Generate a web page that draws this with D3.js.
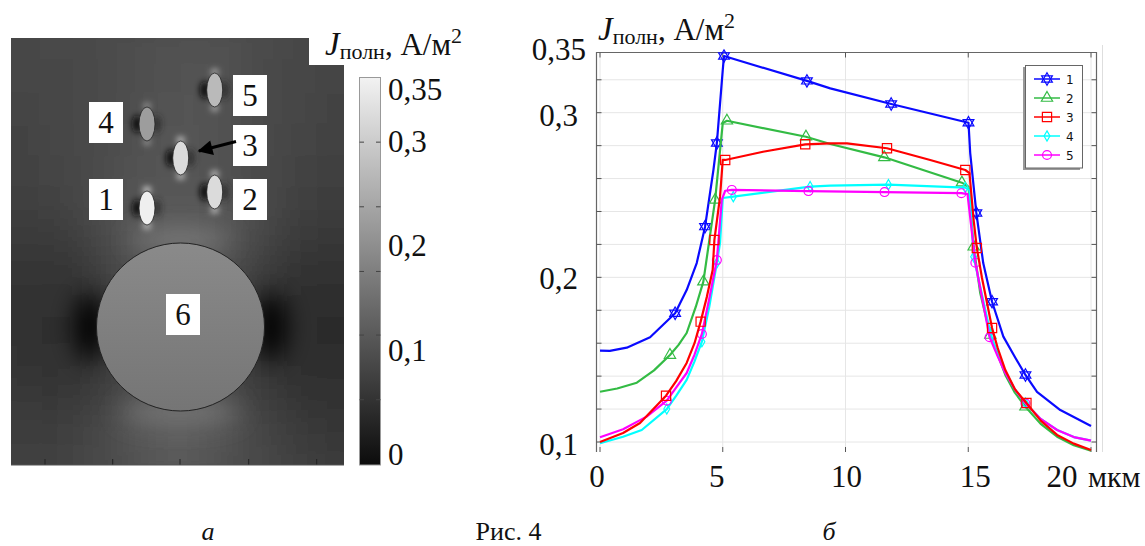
<html>
<head>
    <meta charset="utf-8">
    <script src="https://cdn.jsdelivr.net/npm/d3@7"></script>
    <style>
        html, body { margin: 0; padding: 0; background: #fff; }
        svg { display: block; }
        text { font-family: "Liberation Serif", serif; fill: #111; }
    </style>
</head>
<body>
<div id="chart"></div>
<script>
    // line chart (b)
    var xTicks = [0, 5, 10, 15, 20];
    var xTickLabels = ["0", "5", "10", "15", "20"];
    var yMinor = [0.12, 0.14, 0.16, 0.18, 0.2, 0.22, 0.24, 0.26, 0.28, 0.3, 0.32];
    var yLabelValues = [0.1, 0.2, 0.3, 0.337];
    var yLabels = ["0,1", "0,2", "0,3", "0,35"];
    var seriesNames = ["1", "2", "3", "4", "5"];
    var seriesColors = ["#0a0aff", "#33bb44", "#ff0000", "#00ffff", "#ff00ff"];

    var x1 = [0, .4, 1.09, 2.04, 3.06, 3.53, 3.94, 4.28, 4.62, 4.76, 5.0, 5.05, 8.43, 9.38, 11.86, 15.01, 15.08, 15.33, 15.61, 15.97, 16.43, 16.9, 17.33, 17.8, 18.75, 20];
    var y1 = [.1555, .1553, .1573, .1636, .1782, .1923, .2087, .2308, .2652, .2816, .3259, .3344, .3193, .3148, .3053, .2939, .2755, .2391, .2087, .1852, .164, .1516, .1407, .1305, .1194, .1097];
    var m1 = [3.06, 4.28, 4.76, 5.05, 8.43, 11.86, 15.01, 15.33, 15.97, 17.33];

    var x2 = [0, .7, 1.5, 2.2, 2.85, 3.2, 3.53, 3.9, 4.21, 4.69, 5.0, 5.17, 8.39, 9.38, 11.58, 14.74, 15.01, 15.22, 15.49, 15.9, 16.2, 16.51, 16.9, 17.33, 17.95, 18.62, 19.3, 20];
    var y2 = [.1305, .1325, .136, .1435, .1528, .159, .1662, .182, .1974, .247, .2937, .2951, .2854, .281, .2729, .2575, .2551, .2186, .1903, .165, .153, .1407, .13, .1214, .111, .1032, .098, .0947];
    var m2 = [2.85, 4.21, 4.69, 5.17, 8.39, 11.58, 14.74, 15.22, 15.9, 17.33];

    var x3 = [0, .94, 1.63, 2.69, 3.1, 3.53, 3.85, 4.1, 4.35, 4.59, 4.66, 4.89, 5.0, 5.1, 6.64, 8.36, 9.38, 10.06, 11.69, 13.45, 14.88, 15.05, 15.22, 15.35, 15.56, 15.97, 16.2, 16.51, 16.9, 17.37, 17.95, 18.62, 19.3, 20];
    var y3 = [.1, .1055, .1115, .1281, .137, .148, .16, .1731, .188, .2045, .2227, .249, .2713, .2713, .2763, .2808, .2814, .2814, .2784, .2713, .2652, .2633, .2348, .2178, .1996, .1692, .157, .1437, .132, .1237, .113, .1043, .099, .0951];
    var m3 = [2.69, 4.1, 4.66, 5.1, 8.36, 11.69, 14.88, 15.35, 15.97, 17.37];

    var x4 = [0, .94, 1.7, 2.72, 3.1, 3.53, 3.85, 4.15, 4.45, 4.76, 4.89, 5.0, 5.43, 8.56, 9.38, 11.75, 14.88, 15.05, 15.22, 15.9, 16.2, 16.51, 16.9, 17.33, 17.95, 18.62, 19.3, 20];
    var y4 = [.0992, .1032, .1073, .12, .128, .1377, .149, .1609, .182, .2087, .2209, .2482, .249, .2551, .2557, .2563, .2545, .253, .2125, .1662, .153, .1427, .132, .1237, .114, .1073, .103, .1008];
    var m4 = [2.72, 4.15, 4.76, 5.43, 8.56, 11.75, 14.88, 15.22, 15.9, 17.33];

    var x5 = [0, .94, 1.9, 2.72, 3.1, 3.53, 3.85, 4.15, 4.45, 4.76, 4.96, 5.1, 5.37, 8.49, 11.59, 14.72, 14.97, 15.29, 15.87, 16.2, 16.51, 16.9, 17.33, 17.95, 18.62, 19.3, 20];
    var y5 = [.1029, .1077, .1154, .1251, .133, .1419, .153, .1656, .187, .2105, .247, .2526, .2531, .2524, .2518, .2511, .2506, .2089, .1636, .152, .1419, .132, .1235, .114, .1073, .103, .1008];
    var m5 = [2.72, 4.15, 4.76, 5.37, 8.49, 11.59, 14.72, 15.29, 15.87, 17.33];

    // field map (a) - inclusions and coarse samples of the grey field, A/m2
    var inclusionNames = ["1", "2", "3", "4", "5"];
    var inclusionX = [147, 214.7, 180.7, 147, 214.7];
    var inclusionY = [208, 192, 158, 124, 90];
    var inclusionJ = [.345, .315, .315, .22, .265];
    var barTickValues = [.3, .238, .176, .115, .053];
    var barLabelValues = [0, .1, .2, .3, .35];
    var barLabels = ["0", "0,1", "0,2", "0,3", "0,35"];
    var fieldRows = [
        [.090, .090, .090, .092, .095, .098, .100, .098, .092, .090, .090, .088],
        [.090, .090, .092, .095, .100, .105, .105, .105, .098, .090, .088, .086],
        [.088, .088, .090, .095, .100, .105, .108, .105, .095, .088, .086, .084],
        [.086, .086, .090, .095, .100, .108, .110, .105, .095, .088, .084, .082],
        [.084, .084, .088, .095, .102, .110, .110, .105, .095, .086, .082, .080],
        [.082, .082, .086, .095, .105, .110, .110, .105, .095, .084, .080, .078],
        [.078, .078, .082, .095, .110, .115, .115, .110, .095, .080, .076, .074],
        [.072, .070, .072, .085, .110, .120, .120, .115, .090, .072, .068, .066],
        [.066, .062, .060, .070, .100, .110, .110, .100, .075, .060, .056, .056],
        [.062, .058, .055, .060, .090, .100, .100, .090, .060, .052, .050, .052],
        [.062, .058, .052, .055, .090, .100, .100, .090, .055, .050, .048, .050],
        [.066, .060, .056, .060, .090, .100, .100, .090, .060, .052, .050, .052],
        [.070, .066, .064, .072, .095, .105, .105, .095, .075, .060, .056, .056],
        [.074, .074, .074, .085, .105, .120, .120, .105, .085, .072, .064, .062],
        [.078, .078, .080, .088, .105, .120, .120, .105, .088, .078, .070, .068],
        [.080, .080, .082, .088, .095, .105, .105, .095, .088, .080, .074, .072]
    ];

    var width = 1145, height = 546;
    var svg = d3.select("#chart").append("svg")
        .attr("width", width)
        .attr("height", height);
    var defs = svg.append("defs");

    function blur(id, dev) {
        defs.append("filter").attr("id", id)
            .attr("filterUnits", "userSpaceOnUse")
            .attr("x", -100).attr("y", -100).attr("width", 600).attr("height", 700)
            .append("feGaussianBlur").attr("stdDeviation", dev);
    }
    blur("fieldBlur", 18);
    blur("glow", 3);
    blur("lobeBlur", 12);

    var grey = d3.scaleLinear().domain([0, .35]).range(["#0c0c0c", "#f2f2f2"]);

    // ---------- panel a ----------
    var panel = {left: 11, right: 344, top: 38, bottom: 465};
    defs.append("clipPath").attr("id", "panelClip").append("path")
        .attr("d", "M11,38H309V65H344V465H11Z");

    var field = svg.append("g").attr("clip-path", "url(#panelClip)");
    field.append("rect")
        .attr("x", panel.left).attr("y", panel.top)
        .attr("width", panel.right - panel.left).attr("height", panel.bottom - panel.top)
        .attr("fill", grey(.085));

    var colBand = d3.scaleBand().domain(d3.range(12)).range([panel.left - 40, panel.right + 40]);
    var rowBand = d3.scaleBand().domain(d3.range(16)).range([panel.top - 40, panel.bottom + 40]);
    var fieldCells = field.append("g").attr("filter", "url(#fieldBlur)");
    fieldCells.selectAll("g").data(fieldRows).enter().append("g")
        .each(function (row, r) {
            d3.select(this).selectAll("rect").data(row).enter().append("rect")
                .attr("x", function (d, c) { return colBand(c); })
                .attr("y", rowBand(r))
                .attr("width", colBand.bandwidth() + 1)
                .attr("height", rowBand.bandwidth() + 1)
                .attr("fill", function (d) { return grey(d); });
        });

    // dark lobes beside the inclusions, bright tips above and below
    var inc = field.selectAll(".inc").data(inclusionNames).enter().append("g").attr("class", "inc");
    inc.append("ellipse")
        .attr("cx", function (d, i) { return inclusionX[i] - 10; })
        .attr("cy", function (d, i) { return inclusionY[i]; })
        .attr("rx", 5).attr("ry", 9)
        .attr("fill", "#111").attr("filter", "url(#glow)");
    inc.append("ellipse")
        .attr("cx", function (d, i) { return inclusionX[i] + 10; })
        .attr("cy", function (d, i) { return inclusionY[i]; })
        .attr("rx", 4).attr("ry", 9)
        .attr("fill", "#222").attr("opacity", .7).attr("filter", "url(#glow)");
    [-18, 18].forEach(function (dy) {
        inc.append("ellipse")
            .attr("cx", function (d, i) { return inclusionX[i]; })
            .attr("cy", function (d, i) { return inclusionY[i] + dy; })
            .attr("rx", 4).attr("ry", 3)
            .attr("fill", function (d, i) { return grey(inclusionJ[i]); })
            .attr("filter", "url(#glow)");
    });

    // bright halo under and above the big circle, dark lobes at its sides
    field.append("ellipse").attr("cx", 180).attr("cy", 412).attr("rx", 60).attr("ry", 12)
        .attr("fill", "#777").attr("filter", "url(#lobeBlur)");
    field.append("ellipse").attr("cx", 180).attr("cy", 240).attr("rx", 50).attr("ry", 9)
        .attr("fill", "#808080").attr("filter", "url(#lobeBlur)");
    field.append("ellipse").attr("cx", 90).attr("cy", 327).attr("rx", 16).attr("ry", 34)
        .attr("fill", "#050505").attr("filter", "url(#lobeBlur)");
    field.append("ellipse").attr("cx", 271).attr("cy", 327).attr("rx", 16).attr("ry", 34)
        .attr("fill", "#050505").attr("filter", "url(#lobeBlur)");

    var circleGrad = defs.append("linearGradient").attr("id", "circleGrad")
        .attr("x1", 0).attr("y1", 0).attr("x2", 0).attr("y2", 1);
    circleGrad.append("stop").attr("offset", "0%").attr("stop-color", "#8a8a8a");
    circleGrad.append("stop").attr("offset", "100%").attr("stop-color", "#757575");
    field.append("circle").attr("cx", 180.5).attr("cy", 327).attr("r", 84)
        .attr("fill", "url(#circleGrad)").attr("stroke", "#222").attr("stroke-width", 1);

    field.selectAll(".inclusion").data(inclusionNames).enter().append("ellipse")
        .attr("class", "inclusion")
        .attr("cx", function (d, i) { return inclusionX[i]; })
        .attr("cy", function (d, i) { return inclusionY[i]; })
        .attr("rx", 8).attr("ry", 17)
        .attr("fill", function (d, i) { return grey(inclusionJ[i]); })
        .attr("stroke", "#222").attr("stroke-width", 0.8);

    // ticks along the bottom of the map
    [45, 112.7, 180, 248.7, 316.7].forEach(function (tx) {
        svg.append("line").attr("x1", tx).attr("x2", tx).attr("y1", 459).attr("y2", 465)
            .attr("stroke", "#222").attr("stroke-width", 1);
    });
    svg.append("line").attr("x1", panel.left).attr("x2", panel.right).attr("y1", 465).attr("y2", 465)
        .attr("stroke", "#555").attr("stroke-width", 1);

    // white number boxes
    var boxData = [
        {t: "1", x: 89, y: 179}, {t: "2", x: 233, y: 179}, {t: "3", x: 233, y: 125},
        {t: "4", x: 89, y: 102}, {t: "5", x: 233, y: 75}, {t: "6", x: 166, y: 294}
    ];
    var boxes = svg.selectAll(".box").data(boxData).enter().append("g").attr("class", "box");
    boxes.append("rect")
        .attr("x", function (d) { return d.x; }).attr("y", function (d) { return d.y; })
        .attr("width", 34).attr("height", 41).attr("fill", "#fff");
    boxes.append("text")
        .attr("x", function (d) { return d.x + 17; }).attr("y", function (d) { return d.y + 31; })
        .attr("text-anchor", "middle").attr("font-size", 31)
        .text(function (d) { return d.t; });

    // arrow to inclusion 3
    defs.append("marker").attr("id", "arrow")
        .attr("viewBox", "0 0 10 10").attr("refX", 9).attr("refY", 5)
        .attr("markerUnits", "userSpaceOnUse")
        .attr("markerWidth", 18).attr("markerHeight", 15).attr("orient", "auto")
        .append("path").attr("d", "M0,0L10,5L0,10Z").attr("fill", "#000");
    svg.append("line").attr("x1", 236).attr("y1", 141.5).attr("x2", 199).attr("y2", 151)
        .attr("stroke", "#000").attr("stroke-width", 3).attr("marker-end", "url(#arrow)");

    // colour bar
    var barY = d3.scaleLinear().domain([0, .35]).range([455, 90]);
    var barGrad = defs.append("linearGradient").attr("id", "barGrad")
        .attr("x1", 0).attr("y1", 1).attr("x2", 0).attr("y2", 0);
    barGrad.append("stop").attr("offset", "0%").attr("stop-color", grey(0));
    barGrad.append("stop").attr("offset", "100%").attr("stop-color", grey(.35));
    svg.append("rect").attr("x", 359.5).attr("y", 77.5).attr("width", 21).attr("height", 387.5)
        .attr("fill", "url(#barGrad)").attr("stroke", "#999").attr("stroke-width", 1);
    var barTicks = svg.append("g").selectAll("g").data(barTickValues).enter().append("g");
    barTicks.append("line").attr("x1", 359.5).attr("x2", 364)
        .attr("y1", function (d) { return barY(d); }).attr("y2", function (d) { return barY(d); })
        .attr("stroke", "#444");
    barTicks.append("line").attr("x1", 376).attr("x2", 380.5)
        .attr("y1", function (d) { return barY(d); }).attr("y2", function (d) { return barY(d); })
        .attr("stroke", "#444");
    svg.selectAll(".barLabel").data(barLabels).enter().append("text")
        .attr("class", "barLabel")
        .attr("x", 388)
        .attr("y", function (d, i) { return barY(barLabelValues[i]) + 10; })
        .attr("font-size", 31)
        .text(function (d) { return d; });

    function unitTitle(tx, ty) {
        var t = svg.append("text").attr("x", tx).attr("y", ty).attr("font-size", 31);
        t.append("tspan").attr("font-style", "italic").attr("font-size", 33).text("J");
        t.append("tspan").attr("font-size", 22).attr("dy", 4).text("полн");
        t.append("tspan").attr("dy", -4).text(", А/м");
        t.append("tspan").attr("font-size", 22).attr("dy", -12).text("2");
    }
    unitTitle(325, 55);
    unitTitle(598, 40);

    // ---------- panel b ----------
    var plot = {left: 596.5, right: 1096.5, top: 52.5, bottom: 452};
    var x = d3.scaleLinear().domain([0, 20]).range([600, 1091]);
    var y = d3.scaleLinear().domain([.1, .3]).range([442, 112.7]);

    var gridColor = "#e6e6e6";
    svg.append("g").selectAll("line").data(xTicks).enter().append("line")
        .attr("x1", function (d) { return x(d); }).attr("x2", function (d) { return x(d); })
        .attr("y1", plot.top).attr("y2", plot.bottom - 5)
        .attr("stroke", gridColor).attr("stroke-width", 1);
    svg.append("g").selectAll("line").data([0.1].concat(yMinor)).enter().append("line")
        .attr("x1", plot.left).attr("x2", plot.right)
        .attr("y1", function (d) { return y(d); }).attr("y2", function (d) { return y(d); })
        .attr("stroke", gridColor).attr("stroke-width", 1);

    svg.append("line").attr("x1", 1102.5).attr("x2", 1102.5).attr("y1", 45).attr("y2", 452)
        .attr("stroke", "#dedede");
    svg.append("path")
        .attr("d", "M" + plot.left + "," + plot.bottom + "V" + plot.top + "H" + plot.right + "V" + plot.bottom)
        .attr("fill", "none").attr("stroke", "#666").attr("stroke-width", 1.2);

    // inward ticks on all sides
    var tickLines = svg.append("g").attr("stroke", "#555");
    [0.1].concat(yMinor).forEach(function (v) {
        tickLines.append("line").attr("x1", plot.left).attr("x2", plot.left + 5).attr("y1", y(v)).attr("y2", y(v));
        tickLines.append("line").attr("x1", plot.right - 5).attr("x2", plot.right).attr("y1", y(v)).attr("y2", y(v));
    });
    xTicks.forEach(function (v) {
        tickLines.append("line").attr("x1", x(v)).attr("x2", x(v)).attr("y1", plot.top).attr("y2", plot.top + 5);
        tickLines.append("line").attr("x1", x(v)).attr("x2", x(v)).attr("y1", plot.bottom - 5).attr("y2", plot.bottom);
    });

    svg.selectAll(".xLabel").data(xTickLabels).enter().append("text")
        .attr("class", "xLabel")
        .attr("x", function (d, i) { return x(xTicks[i]) + [-3, -6, 1, 7, -29][i]; })
        .attr("y", 487)
        .attr("text-anchor", "middle").attr("font-size", 31)
        .text(function (d) { return d; });
    svg.append("text").attr("x", 1088).attr("y", 487).attr("font-size", 30).text("мкм");

    svg.selectAll(".yLabel").data(yLabels).enter().append("text")
        .attr("class", "yLabel")
        .attr("x", function (d, i) { return i === 3 ? 586 : 578; })
        .attr("y", function (d, i) { return y(yLabelValues[i]) + [13, 12, 13, 8][i]; })
        .attr("text-anchor", "end").attr("font-size", 31)
        .text(function (d) { return d; });

    // curves
    var line = d3.line()
        .x(function (d) { return x(d[0]); })
        .y(function (d) { return y(d[1]); });

    var allX = [x1, x2, x3, x4, x5];
    var allY = [y1, y2, y3, y4, y5];
    var allM = [m1, m2, m3, m4, m5];
    var symbols = [d3.symbolTriangle, d3.symbolTriangle, d3.symbolSquare, d3.symbolDiamond, d3.symbolCircle];
    var symbolSizes = [50, 55, 85, 30, 62];

    function drawMarker(g, i, mx, my) {
        var color = seriesColors[i];
        g.append("path")
            .attr("transform", "translate(" + mx + "," + my + ")")
            .attr("d", d3.symbol().type(symbols[i]).size(symbolSizes[i])())
            .attr("fill", "none").attr("stroke", color).attr("stroke-width", 1.2);
        if (i === 0) {
            g.append("path")
                .attr("transform", "translate(" + mx + "," + my + ") rotate(180)")
                .attr("d", d3.symbol().type(symbols[i]).size(symbolSizes[i])())
                .attr("fill", "none").attr("stroke", color).attr("stroke-width", 1.2);
        }
    }

    [0, 1, 3, 4, 2].forEach(function (i) {
        var pts = d3.zip(allX[i], allY[i]);
        var g = svg.append("g").attr("class", "series");
        g.append("path").attr("d", line(pts))
            .attr("fill", "none").attr("stroke", seriesColors[i])
            .attr("stroke-width", 2.2).attr("stroke-linejoin", "round");
        allM[i].forEach(function (mx) {
            drawMarker(g, i, x(mx), y(allY[i][allX[i].indexOf(mx)]));
        });
    });

    // legend
    svg.append("rect").attr("x", 1023).attr("y", 67).attr("width", 57).attr("height", 103).attr("fill", "#999");
    svg.append("rect").attr("x", 1025.5).attr("y", 65.5).attr("width", 57).attr("height", 102.5)
        .attr("fill", "#fff").attr("stroke", "#666").attr("stroke-width", 1);
    var legendY = d3.scalePoint().domain(seriesNames).range([79, 155]);
    var legend = svg.selectAll(".legend").data(seriesNames).enter().append("g").attr("class", "legend");
    legend.append("line").attr("x1", 1034).attr("x2", 1060)
        .attr("y1", function (d) { return legendY(d); }).attr("y2", function (d) { return legendY(d); })
        .attr("stroke", function (d, i) { return seriesColors[i]; }).attr("stroke-width", 1.5);
    legend.each(function (d, i) { drawMarker(d3.select(this), i, 1047, legendY(d)); });
    legend.append("text").attr("x", 1066)
        .attr("y", function (d) { return legendY(d) + 4.5; })
        .style("font-family", "'DejaVu Sans', sans-serif").attr("font-size", 12)
        .text(function (d) { return d; });

    // captions
    svg.append("text").attr("x", 208).attr("y", 540).attr("text-anchor", "middle")
        .attr("font-size", 26).attr("font-style", "italic").text("а");
    svg.append("text").attr("x", 508.5).attr("y", 540).attr("text-anchor", "middle")
        .attr("font-size", 26).text("Рис. 4");
    svg.append("text").attr("x", 829).attr("y", 540).attr("text-anchor", "middle")
        .attr("font-size", 26).attr("font-style", "italic").text("б");
</script>
</body>
</html>
